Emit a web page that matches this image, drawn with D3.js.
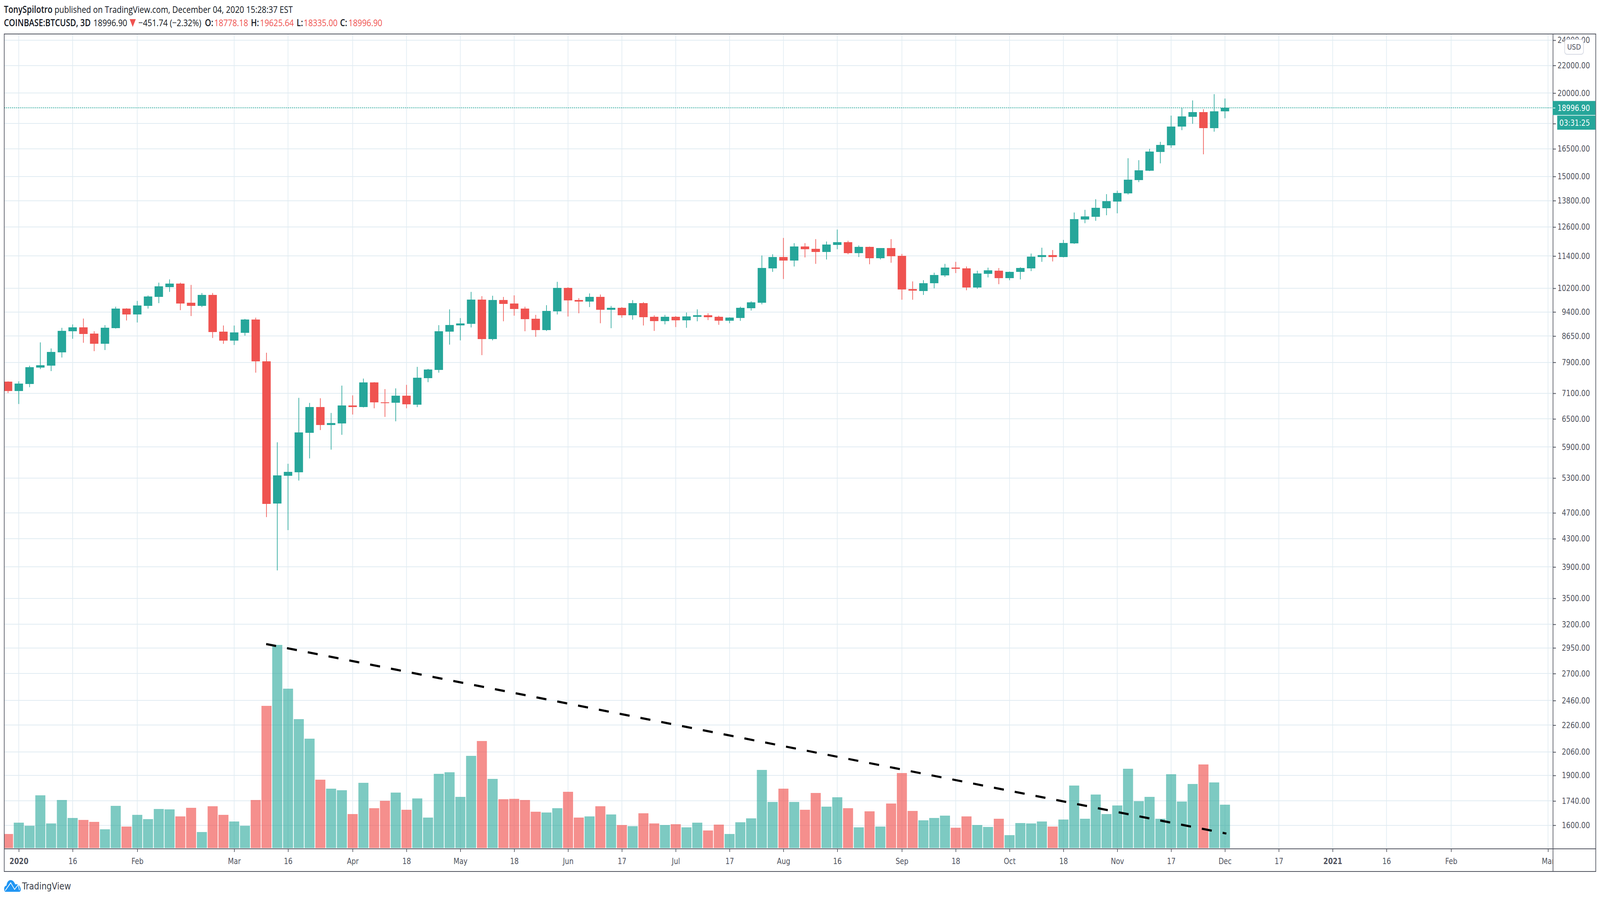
<!DOCTYPE html>
<html>
<head>
<meta charset="utf-8">
<script src="https://cdn.jsdelivr.net/npm/d3@7"></script>
<style>
  html, body { margin: 0; padding: 0; background: #fff; overflow: hidden; }
  text { font-family: "DejaVu Sans", sans-serif; }
  .head text, .head tspan { font-family: "Open Sans", sans-serif; }
</style>
</head>
<body>
<div id="chart"></div>
<script>
// 3D candles, index 0 is the bar just before Jan 1 2020
var barOpen = [7387,7155,7330,7758,7809,8177,8794,8912,8723,8421,8888,9509,9319,9597,9900,10251,10373,9702,9597,9968,
  8782,8510,8746,9153,7933,4852,5339,5405,6195,6770,6363,6396,6806,6770,7369,6878,6869,7039,6824,7480,
  7696,8782,8970,9018,9805,8558,9792,9677,9509,9178,8829,9420,10210,9792,9738,9900,9471,9535,9293,9690,
  9243,9103,9243,9128,9243,9293,9243,9116,9204,9522,9702,10923,11360,11220,11778,11686,11560,11840,11952,11515,
  11763,11314,11717,11406,10170,10116,10373,10662,10952,10923,10224,10720,10836,10561,10793,10923,11360,11437,11360,11902,
  12928,13051,13441,13754,14150,14813,15300,16323,16695,17808,18429,18727,17715,18778.18];
var barHigh = [7400,7398,7809,8463,8288,8900,9006,9190,8794,8982,9572,9522,9765,9954,10400,10517,10400,10319,10035,10035,
  8970,8970,9178,9217,8166,5996,5568,6990,6869,6980,6635,7291,7049,7470,7378,7204,7223,7310,7778,7727,
  8982,9484,9204,10075,9927,9941,9900,9954,9572,9306,9623,10430,10237,9860,10021,9981,9597,9560,9792,9725,
  9293,9306,9268,9382,9484,9357,9280,9230,9572,9752,11422,11468,12135,11919,11919,12085,11985,12490,12018,11824,
  11778,11717,12085,11484,10445,10488,10764,11097,11174,10996,10836,10952,10938,10807,10967,11499,11732,11639,12052,13246,
  13370,13867,14113,14283,15975,15867,16500,16903,18503,19000,19501,18920,19925,19625.64];
var barLow = [7107,6842,7252,7717,7665,8033,8570,8451,8210,8243,8876,9128,9065,9509,9690,10075,9458,9268,9560,8593,
  8421,8388,8664,7624,4633,3854,4429,5254,5672,6254,5846,6153,6599,6761,6743,6545,6447,6743,6770,7378,
  7624,8399,8522,8912,8099,8522,9103,9280,8794,8628,8805,9319,9255,9357,9560,9042,8888,9217,9153,8970,
  8805,9006,8924,8900,9103,9141,8994,9042,9116,9446,9650,10793,10532,10996,11345,11097,11267,11670,11468,11360,
  11082,11267,11140,9805,9805,9968,10197,10605,10749,10130,10183,10590,10346,10488,10517,10822,11174,11189,11345,11885,
  12768,12875,13122,13211,14094,14712,15280,15695,16565,17599,17990,16192,17507,18335.00];
var barClose = [7155,7340,7768,7820,8188,8805,8912,8711,8421,8900,9509,9319,9610,9914,10265,10373,9690,9597,9968,8770,
  8510,8758,9153,7922,4852,5346,5413,6203,6770,6363,6405,6806,6770,7369,6878,6860,7039,6833,7490,7706,
  8794,8982,9030,9805,8558,9792,9664,9496,9166,8829,9433,10210,9779,9738,9900,9471,9535,9293,9690,9230,
  9103,9243,9128,9255,9293,9230,9116,9217,9535,9712,10938,11360,11220,11778,11670,11560,11857,11952,11515,11763,
  11314,11717,11391,10155,10116,10387,10677,10952,10908,10224,10735,10851,10561,10793,10938,11375,11437,11360,11919,12945,
  13069,13459,13773,14169,14833,15320,16346,16718,17808,18454,18727,17715,18778,18996.90];
// volume, thousands of BTC (estimated off the bar heights)
var barVolume = [18,32.5,28.5,67.5,31.5,61.5,38.5,36,33.5,24,54,27.5,42.5,37,50,49.5,40.5,51.5,20.5,53.5,
  42.5,34,28.5,61.5,182,260,204,165,140,87.5,76,74,43.5,83.5,51,60.5,71,49,63.5,39,
  95,97,65.5,118,137,88.5,62.5,63,61.5,46.5,45.5,51,72,39,40.5,53.5,43,29.5,28,44.5,
  31.5,29.5,30.5,26.5,32.5,22.5,30,18,33,38,100,59,76,59,49,70.5,53,65,51,26.5,
  47,27.5,57,96,47.5,35.5,38.5,41.5,26,40.5,29.5,27,37.5,16.5,32,31.5,34,27.5,36.5,80,
  37.5,68.5,43.5,54.5,101.5,60,65.5,37.5,94.5,59.5,82,107,84,55.5];

// price axis (log), labels as on the chart
var priceTicks = [24000,22000,20000,18000,16500,15000,13800,12600,11400,10200,9400,8650,7900,7100,6500,5900,5300,4700,4300,3900,3500,3200,2950,2700,2460,2260,2060,1900,1740,1600];

// time axis, bar index of each label
var timeTickBars = [1,6,12,21,26,32,37,42,47,52,57,62,67,72,77,83,88,93,98,103,108,113,118,123,128,134,143];
var timeTickLabels = ["2020","16","Feb","Mar","16","Apr","18","May","18","Jun","17","Jul","17","Aug","16","Sep","18","Oct","18","Nov","17","Dec","17","2021","16","Feb","Mar"];

// hand drawn trend line over the volume, bar index + price
var trendBars = [23.97, 113.13];
var trendPrices = [2990, 1555];

var lastPrice = 18996.90;

var svgWidth = 4936;
var svgHeight = 2304;

var plot = { left: 13, right: 4791, top: 87, bottom: 2173 };
var frame = { right: 4923, bottom: 2231 };
var volumeBase = 2171;
var volumeTop = 1651;

var teal = "#26A69A";
var red = "#EF5350";
var gridColor = "#E1ECF2";
var lineColor = "#50535E";

// the layout is 4936x2304, fit it to whatever window we really get
var svg = d3.select("#chart")
  .append("svg")
  .attr("width", window.innerWidth)
  .attr("height", window.innerHeight)
  .attr("viewBox", `0 0 ${svgWidth} ${svgHeight}`)
  .attr("preserveAspectRatio", "none")
  .style("display", "block");

svg.append("defs").append("clipPath")
  .attr("id", "plotClip")
  .append("rect")
  .attr("x", plot.left)
  .attr("y", plot.top)
  .attr("width", plot.right - plot.left)
  .attr("height", plot.bottom - plot.top);

var xScale = d3.scaleLinear().domain([1, 113]).range([58, 3779]);
var priceScale = d3.scaleLog().domain([24000, 1600]).range([103, 2112.7]);
var volumeScale = d3.scaleLinear().domain([0, 260]).range([volumeBase, volumeTop]);

var plotGroup = svg.append("g").attr("clip-path", "url(#plotClip)");

// grid
plotGroup.append("g").selectAll("line")
  .data(priceTicks)
  .join("line")
  .attr("x1", plot.left)
  .attr("x2", plot.right)
  .attr("y1", d => Math.round(priceScale(d)))
  .attr("y2", d => Math.round(priceScale(d)))
  .attr("stroke", gridColor)
  .attr("stroke-width", 2)
  .attr("shape-rendering", "crispEdges");

plotGroup.append("g").selectAll("line")
  .data(timeTickBars)
  .join("line")
  .attr("x1", d => xScale(d))
  .attr("x2", d => xScale(d))
  .attr("y1", plot.top)
  .attr("y2", plot.bottom)
  .attr("stroke", gridColor)
  .attr("stroke-width", 2);

// volume
plotGroup.append("g").selectAll("rect")
  .data(barVolume)
  .join("rect")
  .attr("x", (d, i) => xScale(i) - 15.5)
  .attr("width", 31)
  .attr("y", d => volumeScale(d))
  .attr("height", d => volumeBase - volumeScale(d))
  .attr("fill", (d, i) => barClose[i] >= barOpen[i] ? teal : red)
  .attr("fill-opacity", (d, i) => barClose[i] >= barOpen[i] ? 0.6 : 0.65);

// candles
var candles = plotGroup.append("g").selectAll("g")
  .data(barOpen)
  .join("g");

candles.append("line")
  .attr("x1", (d, i) => xScale(i))
  .attr("x2", (d, i) => xScale(i))
  .attr("y1", (d, i) => priceScale(barHigh[i]))
  .attr("y2", (d, i) => priceScale(barLow[i]))
  .attr("stroke", (d, i) => barClose[i] >= d ? teal : red)
  .attr("stroke-width", 2);

candles.append("rect")
  .attr("x", (d, i) => xScale(i) - 13)
  .attr("width", 26)
  .attr("y", (d, i) => Math.round(priceScale(Math.max(d, barClose[i]))))
  .attr("height", (d, i) => Math.max(2, Math.round(Math.abs(priceScale(d) - priceScale(barClose[i])))))
  .attr("fill", (d, i) => barClose[i] >= d ? teal : red);

// last price line
plotGroup.append("line")
  .attr("x1", plot.left)
  .attr("x2", plot.right)
  .attr("y1", Math.round(priceScale(lastPrice)))
  .attr("y2", Math.round(priceScale(lastPrice)))
  .attr("stroke", teal)
  .attr("stroke-width", 2)
  .attr("stroke-dasharray", "3 3");

// trend line
var trendLine = d3.line()
  .x((d, i) => xScale(trendBars[i]))
  .y(d => priceScale(d));

plotGroup.append("path")
  .attr("d", trendLine(trendPrices))
  .attr("fill", "none")
  .attr("stroke", "#000")
  .attr("stroke-width", 5.5)
  .attr("stroke-dasharray", "31 34");

// axes
var bottomAxis = d3.axisBottom(xScale)
  .tickValues(timeTickBars)
  .tickFormat((d, i) => timeTickLabels[i])
  .tickSize(8)
  .tickPadding(0);

svg.append("defs").append("clipPath").attr("id", "xAxisClip")
  .append("rect")
  .attr("x", plot.left)
  .attr("y", plot.bottom)
  .attr("width", plot.right - plot.left)
  .attr("height", frame.bottom - plot.bottom);

var xAxisGroup = svg.append("g")
  .attr("clip-path", "url(#xAxisClip)")
  .append("g")
  .attr("transform", `translate(0, ${plot.bottom})`)
  .call(bottomAxis);

xAxisGroup.select(".domain").remove();
xAxisGroup.selectAll(".tick line").attr("stroke", lineColor).attr("stroke-width", 2);
xAxisGroup.selectAll(".tick text")
  .attr("y", 39)
  .attr("dy", 0)
  .attr("fill", lineColor)
  .attr("font-family", "DejaVu Sans")
  .attr("font-size", 21)
  .attr("font-weight", (d, i) => /^20/.test(timeTickLabels[i]) ? "bold" : "normal");

var rightAxis = d3.axisRight(priceScale)
  .tickValues(priceTicks)
  .tickFormat(d => d.toFixed(2))
  .tickSize(9);

var yAxisGroup = svg.append("g")
  .attr("transform", `translate(${plot.right}, 0)`)
  .call(rightAxis);

yAxisGroup.select(".domain").remove();
yAxisGroup.selectAll(".tick line").attr("stroke", lineColor).attr("stroke-width", 2);
yAxisGroup.selectAll(".tick text")
  .attr("x", 114)
  .attr("text-anchor", "end")
  .attr("fill", lineColor)
  .attr("font-family", "DejaVu Sans")
  .attr("font-size", 21);

// frame
var frameGroup = svg.append("g")
  .attr("stroke", lineColor)
  .attr("stroke-width", 2)
  .attr("fill", "none");

frameGroup.append("rect")
  .attr("x", plot.left)
  .attr("y", plot.top)
  .attr("width", frame.right - plot.left)
  .attr("height", frame.bottom - plot.top);

frameGroup.append("line")
  .attr("x1", plot.left).attr("x2", frame.right)
  .attr("y1", plot.bottom).attr("y2", plot.bottom);

frameGroup.append("line")
  .attr("x1", plot.right).attr("x2", plot.right)
  .attr("y1", plot.top).attr("y2", frame.bottom);

// USD badge
svg.append("rect")
  .attr("x", 4827)
  .attr("y", 101)
  .attr("width", 58)
  .attr("height", 38)
  .attr("rx", 7)
  .attr("fill", "#fff")
  .attr("stroke", "#D6D9E3")
  .attr("stroke-width", 2);

svg.append("text")
  .attr("x", 4856)
  .attr("y", 120)
  .attr("dy", "0.36em")
  .attr("text-anchor", "middle")
  .attr("font-size", 20)
  .attr("fill", lineColor)
  .text("USD");

// last price + countdown labels
var lastY = priceScale(lastPrice);

svg.append("rect")
  .attr("x", 4790)
  .attr("y", lastY - 18)
  .attr("width", 132)
  .attr("height", 36)
  .attr("fill", teal);

svg.append("line")
  .attr("x1", 4791)
  .attr("x2", 4798)
  .attr("y1", lastY)
  .attr("y2", lastY)
  .attr("stroke", "#fff")
  .attr("stroke-width", 2);

svg.append("text")
  .attr("x", 4905)
  .attr("y", lastY)
  .attr("dy", "0.36em")
  .attr("text-anchor", "end")
  .attr("font-size", 21)
  .attr("fill", "#fff")
  .text(lastPrice.toFixed(2));

svg.append("rect")
  .attr("x", 4804)
  .attr("y", 296)
  .attr("width", 118)
  .attr("height", 36)
  .attr("fill", teal);

svg.append("text")
  .attr("x", 4905)
  .attr("y", 314)
  .attr("dy", "0.36em")
  .attr("text-anchor", "end")
  .attr("font-size", 21)
  .attr("fill", "#fff")
  .text("03:31:25");

// header
var head = svg.append("g").attr("class", "head").attr("font-size", 24.5);

function headText(x, y, str, color, bold) {
  head.append("text")
    .attr("x", x)
    .attr("y", y)
    .attr("fill", color)
    .attr("font-weight", bold ? 600 : 400)
    .text(str);
}

var dark = "#131722";
headText(12, 33, "TonySpilotro", dark, true);
headText(168, 33, "published on TradingView.com, December 04, 2020 15:28:37 EST", dark, false);
headText(12, 67, "COINBASE:BTCUSD, 3D", dark, true);
headText(288, 67, "18996.90", dark, false);
headText(427, 67, "\u2212451.74 (\u22122.32%)", dark, false);
headText(632, 67, "O:", dark, true);
headText(661, 67, "18778.18", red, false);
headText(774, 67, "H:", dark, true);
headText(802, 67, "19625.64", red, false);
headText(915, 67, "L:", dark, true);
headText(937, 67, "18335.00", red, false);
headText(1049, 67, "C:", dark, true);
headText(1075, 67, "18996.90", red, false);

head.append("path")
  .attr("d", "M400 49 L419 49 L409.5 69 Z")
  .attr("fill", red);

// TradingView logo
var logo = svg.append("g").attr("transform", "translate(12, 2253)");

logo.append("path")
  .attr("d", "M1 24 C0 19 3 15 8 14 C9 6 14 0 21 0 C28 0 32 5 35 11 C43 9 51 15 52 24 C52 28 50 30 46 30 L6 30 C3 30 1 28 1 24 Z")
  .attr("fill", "#2196F3");

logo.append("path")
  .attr("d", "M4 27 L21 7 L33 24 L44 12 L48 26")
  .attr("fill", "none")
  .attr("stroke", "#fff")
  .attr("stroke-width", 2);

svg.append("text")
  .attr("x", 68)
  .attr("y", 2277)
  .attr("font-family", "Open Sans")
  .attr("font-size", 25)
  .attr("fill", "#3C3F4A")
  .text("TradingView");
</script>
</body>
</html>
